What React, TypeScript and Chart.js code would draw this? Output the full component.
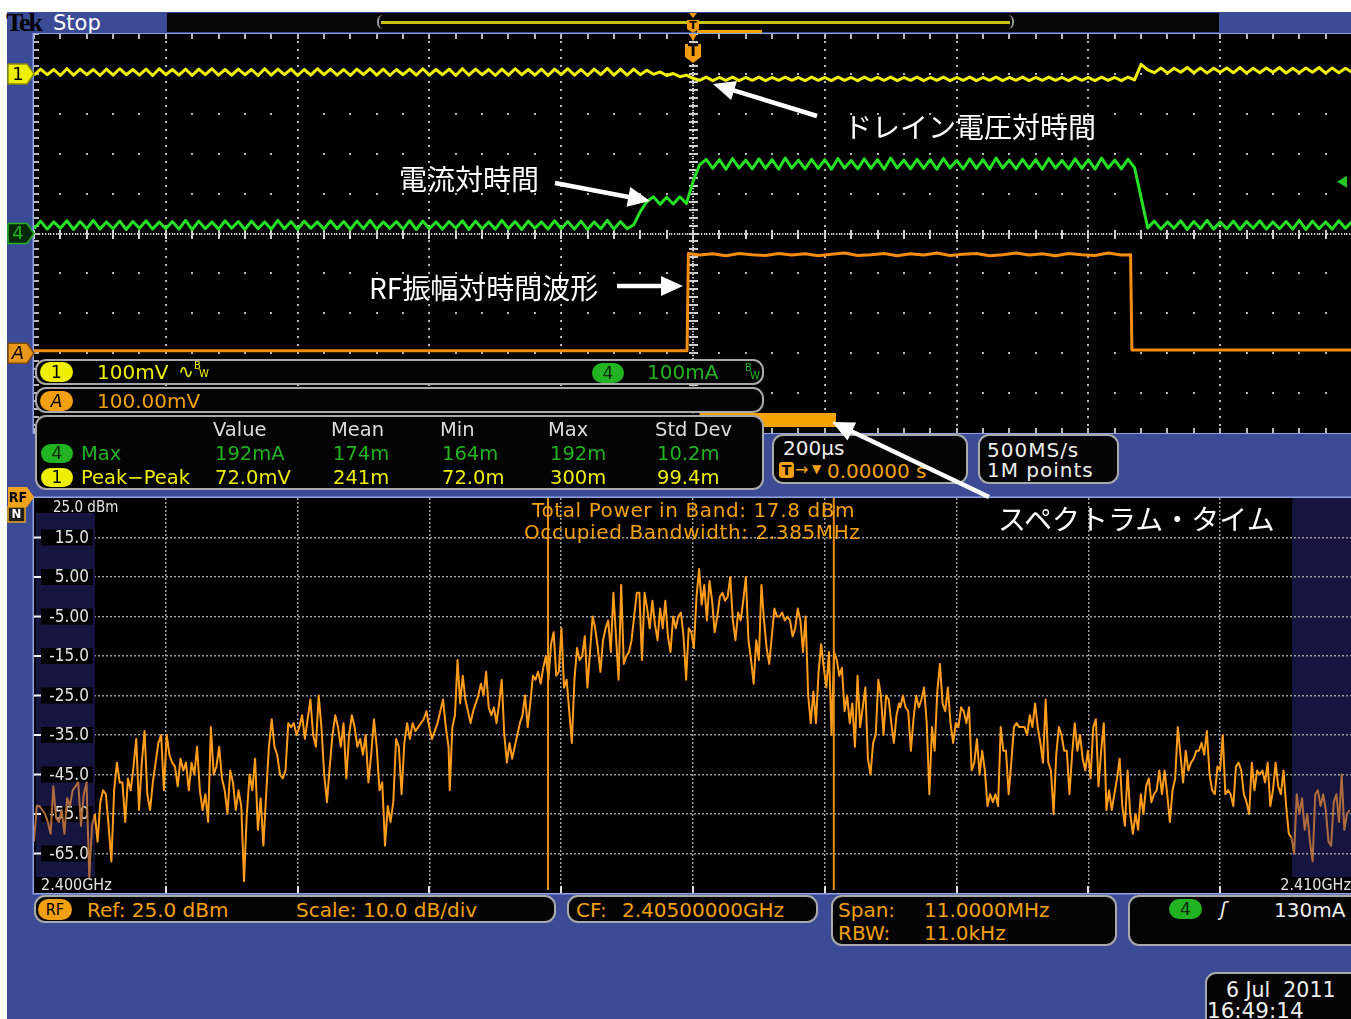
import React, { useEffect, useRef } from "react";
import { Chart, registerables } from "chart.js";

Chart.register(...registerables);

/* ---------------- time-domain record (200 µs/div, trigger at centre) ---------------- */
const T_START_US = -1000;
const T_STEP_US = 10;
const timeSpanUs = [-1000, 1000];

// Ch1 drain voltage, mV — 100 mV/div, position +4 div
const ch1Setup = { perDiv: 100, offsetDiv: 4 };
const ch1DrainMv = [
  -3, 12, -2, 11, -4, 13, -3, 12, -2, 11,
  -4, 12, -3, 13, -2, 11, -3, 12, -4, 13,
  -2, 11, -3, 12, -4, 12, -2, 13, -3, 11,
  -3, 12, -2, 11, -4, 13, -3, 12, -2, 12,
  -4, 11, -3, 13, -2, 12, -3, 11, -4, 12,
  -2, 13, -3, 12, -4, 11, -2, 12, -3, 13,
  -3, 11, -2, 12, -4, 13, -3, 12, -2, 11,
  -4, 12, -3, 13, -2, 11, -3, 12, -4, 12,
  -2, 13, -3, 11, -4, 12, -2, 14, -3, 12,
  -3, 12, -2, 9, -1, 5, -4, 1, -7, -3,
  -11, -16, -8, -17, -9, -16, -8, -17, -9, -16,
  -8, -17, -9, -16, -8, -16, -9, -17, -8, -16,
  -9, -17, -8, -16, -9, -17, -8, -16, -9, -16,
  -8, -17, -9, -16, -8, -17, -9, -16, -8, -17,
  -9, -16, -8, -17, -9, -16, -8, -17, -9, -16,
  -8, -17, -9, -16, -8, -16, -9, -17, -8, -16,
  -9, -17, -8, -16, -9, -17, -8, -15, 24, 10,
  3, 15, 2, 14, 4, 16, 3, 15, 2, 14,
  4, 15, 3, 16, 2, 14, 3, 15, 4, 16,
  2, 14, 3, 15, 4, 16, 2, 15, 3, 14,
  4,
];

// Ch4 drain current, mA — 100 mA/div, position 0 div
const ch4Setup = { perDiv: 100, offsetDiv: 0 };
const ch4CurrentMa = [
  12, 31, 11, 29, 13, 32, 10, 30, 12, 33,
  11, 29, 12, 31, 10, 30, 13, 32, 11, 29,
  12, 30, 11, 33, 10, 31, 12, 29, 11, 32,
  13, 30, 10, 31, 12, 29, 11, 33, 12, 30,
  10, 31, 13, 29, 11, 32, 12, 30, 10, 31,
  12, 33, 11, 29, 13, 30, 11, 32, 10, 31,
  12, 29, 11, 30, 13, 32, 10, 31, 12, 29,
  11, 33, 12, 30, 10, 31, 13, 29, 11, 32,
  12, 30, 11, 31, 10, 29, 12, 33, 11, 30,
  12, 22, 55, 80, 92, 73, 91, 74, 92, 75,
  130, 172, 186, 163, 185, 161, 188, 164, 184, 162,
  187, 163, 185, 161, 189, 164, 184, 162, 186, 163,
  185, 161, 188, 164, 183, 162, 187, 163, 185, 161,
  189, 164, 184, 162, 186, 163, 185, 161, 188, 164,
  183, 162, 187, 163, 185, 161, 189, 164, 184, 162,
  186, 163, 185, 161, 188, 164, 183, 162, 187, 163,
  185, 161, 189, 164, 184, 162, 186, 165, 90, 14,
  31, 11, 29, 13, 32, 10, 30, 12, 33, 11,
  29, 12, 31, 10, 30, 13, 32, 11, 29, 12,
  30, 11, 33, 10, 31, 12, 29, 11, 32, 13,
  30,
];

// RF amplitude vs time, mV — 100 mV/div, position -3 div
const rfSetup = { perDiv: 100, offsetDiv: -3 };
const rfTimesUs = [
  -1000, -9, -7,
  10, 30, 50, 70, 90, 110, 130, 150, 170, 190, 210, 230, 250, 270, 290, 310, 330,
  350, 370, 390, 410, 430, 450, 470, 490, 510, 530, 550, 570, 590, 610, 630, 650,
  664, 666, 1000,
];
const rfAmplitudeMv = [
  6, 6, 250,
  246, 249, 244, 250, 247, 245, 250, 246, 249, 244, 248, 251, 245, 247, 250, 244, 249,
  246, 251, 245, 248, 250, 244, 247, 251, 246, 249, 244, 250, 247, 245, 251, 246,
  247, 8, 8,
];

const spectrumWindowUs = [10, 217];
const triggerLevelMa = 130;

/* ---------------- spectrum (CF 2.405 GHz, span 11 MHz) ---------------- */
const centerFreqGhz = 2.405;
const spanMhz = 11;
const rbwKhz = 11;
const refLevelDbm = 25;
const dbPerDiv = 10;
const dbTickValues = [15, 5, -5, -15, -25, -35, -45, -55, -65];
const freqDivsMhz = [2400.6, 2401.7, 2402.8, 2403.9, 2405.0, 2406.1, 2407.2, 2408.3, 2409.4];
const displayLimitsMhz = [2400, 2410];
const obwEdgesMhz = [2403.79, 2406.175];
const totalPowerDbm = 17.8;
const occupiedBwMhz = 2.385;

const spectrumLowMhz = [2399.5, 2402.96];
const spectrumLowDbm = [
  -62, -53, -53, -54, -55, -57, -60, -48, -56, -57, -54, -60, -51, -53, -49, -48, -47, -58, -50, -47,
  -71, -58, -55, -62, -52, -49, -50, -58, -67, -49,
  -42, -47, -47, -57, -46, -49, -43, -36, -54, -42, -34, -50, -54, -47, -42, -37, -35, -49, -35, -40,
  -42, -43, -48, -41, -44, -42, -49, -42, -45, -38, -49, -54, -50, -57, -33, -45, -43, -38, -46, -49,
  -55, -44, -47, -54, -49, -53, -72, -55, -45, -49, -41, -59, -51, -63, -50, -38, -31, -38, -40, -45,
  -46, -44, -32, -33, -32, -35, -33, -30, -36, -31, -26, -35, -38, -25, -33, -45, -52, -43, -35, -30,
  -33, -38, -32, -46, -35, -30, -33, -38, -36, -40, -35, -47, -40, -31, -38, -49, -47, -63, -53, -57,
  -52, -36, -38, -50, -37, -32, -36, -32, -34, -33, -32, -31, -29, -33, -36, -34, -32, -29, -26, -33,
  -38,
];

const spectrumMidMhz = [2402.97, 2406.72];
const spectrumMidDbm = [
  -49, -33, -30, -16, -27, -20, -26, -29, -32, -29, -27, -25, -22, -25, -19, -28, -30, -28, -32, -27,
  -21, -35, -42, -37, -41, -38, -35, -32, -30, -25, -33, -27, -20, -21, -19, -22, -18, -15, -21, -12,
  -9, -20, -19, -8, -23, -21, -29, -37, -21, -13, -16, -15, -10, -23, -14, -5, -8, -13, -19, -11,
  -8, -6, -14, 1, -10, -21, 3, -17, -15, -14, -11, -5, 1, 1, -16, 1, -3, -8, -1, -7,
  -11, -3, -8, -1, -10, -14, -5, -8, -5, -4, -10, -21, -8, -9, -13, 0, 7, -2, 3, -6,
  4, -1, -9, -5, 0, 1, -1, 0, 5, -6, -11, -4, -6, -1, 5, -11, -16, -22, -11, -16,
  3, -6, -13, -17, -10, -3, -5, -5, -4, -6, -5, -6, -10, -8, -3, -6, -14, -5, -25, -32,
  -24, -32, -19, -12, -18, -23, -14, -35, -14, -16, -20, -18, -29, -25, -32, -27, -38, -20, -33, -28,
  -23, -41, -45, -37, -35, -21, -25, -35, -25, -26, -32, -37, -30, -27,
];

const spectrumHighMhz = [2406.73, 2410.48];
const spectrumHighDbm = [
  -28, -25, -28, -29, -39, -31, -25, -28, -26, -23, -32, -50, -33, -39, -24, -17, -27, -29, -23, -32,
  -37, -32, -33, -28, -29, -32, -28, -44, -42, -36, -45, -39, -44, -53, -50, -52, -50, -53, -33, -39,
  -39, -50, -42, -33, -32, -33, -33, -33, -35, -30, -33, -27, -33, -37, -42, -26, -42, -44, -55, -40,
  -33, -35, -39, -39, -50, -40, -32, -39, -35, -41, -44, -39, -46, -33, -31, -48, -39, -32, -54, -49,
  -54, -50, -46, -41, -53, -58, -44, -55, -60, -55, -59, -50, -55, -48, -46, -52, -50, -49, -44, -50,
  -44, -50, -57, -49, -46, -33, -40, -47, -39, -44, -42, -41, -39, -39, -37, -40, -34, -45, -49, -50,
  -43, -44, -35, -50, -49, -50, -53, -43, -42, -44, -50, -52, -55, -42, -49, -44, -45, -44, -47, -42,
  -53, -49, -42, -48, -50, -44, -53, -60, -61, -65, -50, -55, -51, -59, -55, -62, -67, -50, -49, -53,
  -50, -54, -62, -63, -52, -50, -57, -45, -59, -55, -54,
];

/* ---------------- readouts ---------------- */
const measColumns = ["Value", "Mean", "Min", "Max", "Std Dev"];
const measCh4Max = ["192mA", "174m", "164m", "192m", "10.2m"];
const measCh1PkPk = ["72.0mV", "241m", "72.0m", "300m", "99.4m"];

/* ---------------- palette ---------------- */
const BLUE = "#3c4b96";
const FRAME = "#8fa4e4";
const YELLOW = "#eeee00";
const GREEN = "#22b322";
const GREEN_TRACE = "#26e026";
const ORANGE = "#f2a012";
const WHITE = "#eeeeee";
const DJV = '"DejaVu Sans", sans-serif';
const DJVC = '"DejaVu Sans Condensed", "DejaVu Sans", sans-serif';
const CJK = '"Noto Sans CJK JP", sans-serif';

const axisRange = (s: { perDiv: number; offsetDiv: number }) => ({
  min: (-5 - s.offsetDiv) * s.perDiv,
  max: (5 - s.offsetDiv) * s.perDiv,
});

const sampled = (vals: number[]) => vals.map((v, i) => ({ x: T_START_US + i * T_STEP_US, y: v }));

function bandPoints(range: number[], vals: number[]) {
  return vals.map((v, i) => ({ x: range[0] + ((range[1] - range[0]) * i) / (vals.length - 1), y: v }));
}

function sideMarker(ctx: CanvasRenderingContext2D, tipX: number, y: number, fill: string, stroke: string, label: string, fg: string, italic = false) {
  const h = 10, w = 26;
  ctx.beginPath();
  ctx.moveTo(tipX - w, y - h);
  ctx.lineTo(tipX - 7, y - h);
  ctx.lineTo(tipX, y);
  ctx.lineTo(tipX - 7, y + h);
  ctx.lineTo(tipX - w, y + h);
  ctx.closePath();
  ctx.lineJoin = "round";
  ctx.fillStyle = fill;
  ctx.fill();
  ctx.lineWidth = 1.5;
  ctx.strokeStyle = stroke;
  ctx.stroke();
  ctx.fillStyle = fg;
  ctx.font = `${italic ? "italic " : ""}18px ${DJV}`;
  ctx.textAlign = "center";
  ctx.textBaseline = "middle";
  ctx.fillText(label, tipX - w / 2 - 3, y + 1);
}

const scopePlugin = {
  id: "scopeGraticule",
  beforeDatasetsDraw(chart: any) {
    const { ctx, chartArea: a } = chart;
    const xs = chart.scales.x, gs = chart.scales.yDiv;
    ctx.save();
    ctx.fillStyle = "#000";
    ctx.fillRect(a.left, a.top, a.right - a.left, a.bottom - a.top);
    const minorT: number[] = [];
    for (let t = timeSpanUs[0]; t <= timeSpanUs[1]; t += 40) minorT.push(t);
    const minorD: number[] = [];
    for (let k = -25; k <= 25; k++) minorD.push(k / 5);
    ctx.fillStyle = "#b8b8b8";
    for (let t = -800; t <= 800; t += 200) {
      const x = Math.round(xs.getPixelForValue(t));
      if (t === 0) {
        ctx.fillStyle = "#cfcfcf";
        for (let y = a.top; y <= a.bottom; y += 2.7) ctx.fillRect(x - 1, Math.round(y), 2, 1.3);
        minorD.forEach((d) => { const y = Math.round(gs.getPixelForValue(d)); ctx.fillRect(x - 4, y - 1, 9, 2); });
        ctx.fillStyle = "#b8b8b8";
      } else {
        minorD.forEach((d) => { const y = Math.round(gs.getPixelForValue(d)); ctx.fillRect(x - 1, y - 1, 2, 2); });
      }
    }
    for (let d = -4; d <= 4; d++) {
      const y = Math.round(gs.getPixelForValue(d));
      if (d === 0) {
        ctx.fillStyle = "#cfcfcf";
        for (let x = a.left; x <= a.right; x += 2.7) ctx.fillRect(Math.round(x), y - 1, 1.3, 2);
        minorT.forEach((t) => { const x = Math.round(xs.getPixelForValue(t)); ctx.fillRect(x - 1, y - 4, 2, 9); });
        ctx.fillStyle = "#b8b8b8";
      } else {
        minorT.forEach((t) => { const x = Math.round(xs.getPixelForValue(t)); ctx.fillRect(x - 1, y - 1, 2, 2); });
      }
    }
    minorD.forEach((d) => { const y = Math.round(gs.getPixelForValue(d)); ctx.fillRect(a.left, y - 1, 5, 2); });
    minorT.forEach((t) => {
      const x = Math.round(xs.getPixelForValue(t));
      ctx.fillRect(x - 1, a.top, 2, 5);
      ctx.fillRect(x - 1, a.bottom - 5, 2, 5);
    });
    ctx.restore();
  },
  afterDatasetsDraw(chart: any) {
    const { ctx, chartArea: a } = chart;
    const xs = chart.scales.x;
    ctx.save();
    // spectrum-time window
    const w0 = xs.getPixelForValue(spectrumWindowUs[0]);
    const w1 = xs.getPixelForValue(spectrumWindowUs[1]);
    ctx.fillStyle = "#f5a300";
    ctx.fillRect(w0, a.bottom - 20, w1 - w0, 14);
    // trigger position marker
    const tx = xs.getPixelForValue(0);
    ctx.fillStyle = "#f29a10";
    ctx.beginPath();
    ctx.moveTo(tx - 4, a.top);
    ctx.lineTo(tx + 4, a.top);
    ctx.lineTo(tx, a.top + 7);
    ctx.closePath();
    ctx.fill();
    ctx.beginPath();
    ctx.moveTo(tx - 8, a.top + 10);
    ctx.lineTo(tx + 8, a.top + 10);
    ctx.lineTo(tx + 8, a.top + 23);
    ctx.lineTo(tx, a.top + 29);
    ctx.lineTo(tx - 8, a.top + 23);
    ctx.closePath();
    ctx.fill();
    ctx.fillStyle = "#000";
    ctx.font = `bold 15px ${DJV}`;
    ctx.textAlign = "center";
    ctx.textBaseline = "middle";
    ctx.fillText("T", tx, a.top + 18);
    // trigger level indicator on Ch4
    const ly = chart.scales.y4.getPixelForValue(triggerLevelMa);
    ctx.fillStyle = "#22c822";
    ctx.beginPath();
    ctx.moveTo(a.right - 15, ly);
    ctx.lineTo(a.right - 5, ly - 6);
    ctx.lineTo(a.right - 5, ly + 6);
    ctx.closePath();
    ctx.fill();
    // frame
    ctx.strokeStyle = FRAME;
    ctx.lineWidth = 1.5;
    ctx.strokeRect(a.left - 0.75, a.top - 0.75, a.right - a.left + 1.5, a.bottom - a.top + 1.5);
    // channel ground markers
    sideMarker(ctx, a.left, chart.scales.y1.getPixelForValue(0), YELLOW, "#8c8c00", "1", "#000");
    sideMarker(ctx, a.left, chart.scales.y4.getPixelForValue(0), "#062a06", GREEN, "4", GREEN);
    sideMarker(ctx, a.left, chart.scales.yA.getPixelForValue(0), "#e8961c", "#7a4a08", "A", "#000", true);
    ctx.restore();
  },
};

const spectrumPlugin = {
  id: "spectrumDecor",
  beforeDraw(chart: any) {
    const { ctx, chartArea: a } = chart;
    const xs = chart.scales.x;
    ctx.save();
    ctx.fillStyle = "#000";
    ctx.fillRect(a.left, a.top, a.right - a.left, a.bottom - a.top);
    const rx = xs.getPixelForValue(displayLimitsMhz[1]);
    ctx.fillStyle = "#15153f";
    ctx.fillRect(rx, a.top, a.right - rx, a.bottom - 16 - a.top);
    ctx.restore();
  },
  beforeDatasetsDraw(chart: any) {
    const { ctx, chartArea: a } = chart;
    const xs = chart.scales.x, ys = chart.scales.y;
    ctx.save();
    const lx = xs.getPixelForValue(displayLimitsMhz[0]);
    ctx.fillStyle = "#15153f";
    ctx.fillRect(a.left + 2, a.top + 15, lx + 1 - a.left - 2, a.bottom - 16 - a.top - 15);
    ctx.font = `17px ${DJVC}`;
    ctx.textAlign = "right";
    ctx.textBaseline = "middle";
    dbTickValues.forEach((v) => {
      const y = ys.getPixelForValue(v);
      ctx.fillStyle = "#000";
      ctx.fillRect(a.left + 7, y - 8, lx - a.left - 8, 16);
      ctx.fillStyle = "#f4f4f4";
      ctx.fillRect(a.left, y - 1, 7, 2);
      ctx.fillStyle = "#e4e4e4";
      ctx.fillText(v.toPrecision(3), lx - 5, y + 1);
    });
    ctx.textBaseline = "alphabetic";
    ctx.textAlign = "left";
    ctx.font = `15px ${DJVC}`;
    ctx.fillStyle = "#e4e4e4";
    ctx.fillText(`${refLevelDbm.toFixed(1)} dBm`, a.left + 19, a.top + 13.5);
    ctx.font = `16px ${DJVC}`;
    ctx.fillText(`${(displayLimitsMhz[0] / 1000).toFixed(3)}GHz`, a.left + 7, a.bottom - 3);
    ctx.textAlign = "right";
    ctx.fillText(`${(displayLimitsMhz[1] / 1000).toFixed(3)}GHz`, a.right - 1, a.bottom - 3);
    ctx.fillStyle = "#e0e0e0";
    freqDivsMhz.forEach((f) => {
      const x = Math.round(xs.getPixelForValue(f));
      ctx.fillRect(x - 1, a.bottom - 7, 2, 7);
    });
    ctx.restore();
  },
  afterDatasetsDraw(chart: any) {
    const { ctx, chartArea: a } = chart;
    const xs = chart.scales.x;
    ctx.save();
    ctx.strokeStyle = "#e8921a";
    ctx.lineWidth = 2;
    obwEdgesMhz.forEach((f) => {
      const x = xs.getPixelForValue(f);
      ctx.beginPath();
      ctx.moveTo(x, a.top);
      ctx.lineTo(x, a.bottom - 3);
      ctx.stroke();
    });
    ctx.strokeStyle = FRAME;
    ctx.lineWidth = 1.5;
    ctx.strokeRect(a.left - 0.75, a.top - 0.75, a.right - a.left + 1.5, a.bottom - a.top + 1.5);
    // RF reference-level marker
    const yRef = a.top - 1;
    ctx.beginPath();
    ctx.moveTo(a.left - 26, yRef - 10);
    ctx.lineTo(a.left - 7, yRef - 10);
    ctx.lineTo(a.left, yRef);
    ctx.lineTo(a.left - 7, yRef + 10);
    ctx.lineTo(a.left - 26, yRef + 10);
    ctx.closePath();
    ctx.fillStyle = "#efa31c";
    ctx.fill();
    ctx.fillStyle = "#000";
    ctx.font = `bold 14px ${DJVC}`;
    ctx.textAlign = "center";
    ctx.textBaseline = "middle";
    ctx.fillText("RF", a.left - 16, yRef + 1);
    ctx.fillStyle = "#1e1e1e";
    ctx.fillRect(a.left - 26, yRef + 10, 17, 15);
    ctx.strokeStyle = "#efa31c";
    ctx.lineWidth = 1.5;
    ctx.strokeRect(a.left - 26, yRef + 10, 17, 15);
    ctx.fillStyle = "#fff";
    ctx.font = `bold 13px ${DJVC}`;
    ctx.fillText("N", a.left - 17.5, yRef + 18);
    ctx.restore();
  },
};

type TxtProps = {
  x: number; y: number; size?: number; color?: string; family?: string;
  weight?: number; ls?: number; italic?: boolean; children: React.ReactNode;
};
function Txt({ x, y, size = 20, color = WHITE, family = DJV, weight = 400, ls = 0, italic = false, children }: TxtProps) {
  return (
    <div style={{
      position: "absolute", left: x, top: y, fontSize: size, lineHeight: 1, color,
      fontFamily: family, fontWeight: weight, letterSpacing: ls, whiteSpace: "pre",
      fontStyle: italic ? "italic" : "normal",
    }}>{children}</div>
  );
}

function Box({ x, y, w, h }: { x: number; y: number; w: number; h: number }) {
  return (
    <div style={{
      position: "absolute", left: x, top: y, width: w, height: h, boxSizing: "border-box",
      background: "#040404", border: "2px solid #a9a9a9", borderRadius: 11,
    }} />
  );
}

function Badge({ x, y, w, h, bg, fg, text, size = 17, italic = false, family = DJV }: any) {
  return (
    <div style={{
      position: "absolute", left: x, top: y, width: w, height: h, borderRadius: h / 2,
      background: bg, color: fg, fontFamily: family, fontSize: size,
      fontStyle: italic ? "italic" : "normal", lineHeight: `${h}px`, textAlign: "center",
    }}>{text}</div>
  );
}

function Arrow({ x1, y1, x2, y2 }: { x1: number; y1: number; x2: number; y2: number }) {
  const dx = x2 - x1, dy = y2 - y1, L = Math.hypot(dx, dy);
  const ux = dx / L, uy = dy / L, hl = 22, hw = 10;
  const bx = x2 - ux * hl, by = y2 - uy * hl;
  const pts = `${x2},${y2} ${bx - uy * hw},${by + ux * hw} ${bx + uy * hw},${by - ux * hw}`;
  return (
    <g>
      <line x1={x1} y1={y1} x2={bx + ux * 3} y2={by + uy * 3} stroke="#ffffff" strokeWidth={4.5} />
      <polygon points={pts} fill="#ffffff" />
    </g>
  );
}

export default function App() {
  const scopeRef = useRef<HTMLCanvasElement>(null);
  const specRef = useRef<HTMLCanvasElement>(null);

  useEffect(() => {
    const common = {
      animation: false as const,
      responsive: false,
      devicePixelRatio: 1,
      events: [] as any[],
      plugins: { legend: { display: false }, tooltip: { enabled: false } },
      elements: { point: { radius: 0 }, line: { tension: 0, borderJoinStyle: "round" } },
    };

    const scope = new Chart(scopeRef.current!, {
      type: "line",
      data: {
        datasets: [
          { data: rfTimesUs.map((t, i) => ({ x: t, y: rfAmplitudeMv[i] })), yAxisID: "yA", borderColor: "#f38c10", borderWidth: 3 },
          { data: sampled(ch4CurrentMa), yAxisID: "y4", borderColor: GREEN_TRACE, borderWidth: 3 },
          { data: sampled(ch1DrainMv), yAxisID: "y1", borderColor: "#f0f000", borderWidth: 3 },
        ],
      },
      options: {
        ...common,
        layout: { padding: { left: 27, top: 1, right: 0, bottom: 1 }, autoPadding: false },
        scales: {
          x: { type: "linear", display: false, min: timeSpanUs[0], max: timeSpanUs[1] },
          yDiv: { type: "linear", axis: "y", display: false, min: -5, max: 5 },
          y1: { type: "linear", display: false, ...axisRange(ch1Setup) },
          y4: { type: "linear", display: false, ...axisRange(ch4Setup) },
          yA: { type: "linear", display: false, ...axisRange(rfSetup) },
        },
      } as any,
      plugins: [scopePlugin],
    });

    const spectrumPoints = [
      ...bandPoints(spectrumLowMhz, spectrumLowDbm),
      ...bandPoints(spectrumMidMhz, spectrumMidDbm),
      ...bandPoints(spectrumHighMhz, spectrumHighDbm),
    ];
    const halfSpan = spanMhz / 2;
    const cfMhz = centerFreqGhz * 1000;

    const spec = new Chart(specRef.current!, {
      type: "line",
      data: {
        datasets: [{
          data: spectrumPoints,
          borderColor: "#ff9c1c",
          borderWidth: 2,
          segment: {
            borderColor: (c: any) => {
              const m = (c.p0.parsed.x + c.p1.parsed.x) / 2;
              return m < displayLimitsMhz[0] || m > displayLimitsMhz[1] ? "#b06c3c" : undefined;
            },
          },
        }],
      },
      options: {
        ...common,
        layout: { padding: { left: 27, top: 13, right: 0, bottom: 2 }, autoPadding: false },
        scales: {
          x: {
            type: "linear", min: cfMhz - halfSpan, max: cfMhz + halfSpan,
            ticks: { display: false },
            grid: { color: "#9e9e9e", lineWidth: 1.5, drawTicks: false },
            border: { display: false, dash: [2, 2] },
            afterBuildTicks: (s: any) => { s.ticks = freqDivsMhz.map((v) => ({ value: v })); },
            afterFit: (s: any) => { s.height = 0; },
          },
          y: {
            type: "linear", min: refLevelDbm - 10 * dbPerDiv, max: refLevelDbm,
            ticks: { display: false },
            grid: { color: "#9e9e9e", lineWidth: 1.5, drawTicks: false },
            border: { display: false, dash: [2, 2] },
            afterBuildTicks: (s: any) => { s.ticks = dbTickValues.map((v) => ({ value: v })); },
            afterFit: (s: any) => { s.width = 0; },
          },
        },
      } as any,
      plugins: [spectrumPlugin],
    });

    return () => {
      scope.destroy();
      spec.destroy();
    };
  }, []);

  const colX = [213, 331, 440, 548, 655];

  return (
    <div style={{ position: "absolute", left: 0, top: 0, width: 1351, height: 1019, overflow: "hidden", background: "#fff" }}>
      <div style={{ position: "absolute", left: 7, top: 12, width: 1344, height: 1007, background: BLUE }} />

      {/* header */}
      <Txt x={6} y={10} size={26} color="#000" family='"Liberation Serif", serif' weight={700} ls={-2}>Tek</Txt>
      <Txt x={53} y={12.5} size={21} color="#ffffff">Stop</Txt>
      <div style={{ position: "absolute", left: 167, top: 13, width: 1052, height: 19, background: "#050505" }} />
      <div style={{ position: "absolute", left: 381, top: 21, width: 629, height: 2.5, background: "#c9c400" }} />
      <div style={{ position: "absolute", left: 377, top: 15, width: 6, height: 14, borderLeft: "2px solid #9a9a9a", borderRadius: "6px 0 0 6px" }} />
      <div style={{ position: "absolute", left: 1006, top: 15, width: 6, height: 14, borderRight: "2px solid #9a9a9a", borderRadius: "0 6px 6px 0" }} />
      <div style={{ position: "absolute", left: 697, top: 29.5, width: 65, height: 3, background: "#f5a300" }} />
      <svg style={{ position: "absolute", left: 686, top: 12 }} width={14} height={22}>
        <polygon points="3,1 11,1 7,6" fill="#f29a10" />
        <path d="M1,8 H13 V17 L7,21 L1,17 Z" fill="#f29a10" />
        <text x={7} y={17} fontSize={11} fontWeight={700} textAnchor="middle" fontFamily="DejaVu Sans" fill="#000">T</text>
      </svg>

      {/* time-domain graticule and traces */}
      <canvas ref={scopeRef} width={1345} height={401} style={{ position: "absolute", left: 7, top: 33 }} />

      {/* spectrum graticule and trace */}
      <canvas ref={specRef} width={1345} height={410} style={{ position: "absolute", left: 7, top: 485 }} />

      {/* vertical / math readouts */}
      <Box x={35} y={359} w={729} h={26} />
      <Box x={35} y={387} w={729} h={26} />
      <Box x={35} y={415} w={729} h={75} />
      <Badge x={40} y={362} w={33} h={20} bg={YELLOW} fg="#000" text="1" />
      <Txt x={97} y={362} color={YELLOW}>100mV</Txt>
      <Txt x={178} y={362} size={19} color={YELLOW}>∿</Txt>
      <Txt x={194} y={361} size={10} color={YELLOW}>B</Txt>
      <Txt x={199} y={369} size={10} color={YELLOW}>W</Txt>
      <Badge x={592} y={363} w={32} h={20} bg={GREEN} fg="#062806" text="4" />
      <Txt x={647} y={362} color={GREEN}>100mA</Txt>
      <Txt x={745} y={363} size={10} color={GREEN}>B</Txt>
      <Txt x={750} y={371} size={10} color={GREEN}>W</Txt>
      <Badge x={40} y={391} w={33} h={20} bg={ORANGE} fg="#000" text="A" italic />
      <Txt x={97} y={391} color={ORANGE}>100.00mV</Txt>

      {/* measurements */}
      {measColumns.map((c, i) => (
        <Txt key={c} x={colX[i]} y={420} size={19.5} color="#dcdcdc">{c}</Txt>
      ))}
      <Badge x={41} y={444} w={32} h={19} bg={GREEN} fg="#062806" text="4" />
      <Txt x={81} y={444} size={19.5} color={GREEN}>Max</Txt>
      {measCh4Max.map((v, i) => (
        <Txt key={"m4" + i} x={colX[i] + 2} y={444} size={19.5} color={GREEN}>{v}</Txt>
      ))}
      <Badge x={41} y={468} w={32} h={19} bg={YELLOW} fg="#000" text="1" />
      <Txt x={81} y={467.5} size={19.5} color={YELLOW}>Peak−Peak</Txt>
      {measCh1PkPk.map((v, i) => (
        <Txt key={"m1" + i} x={colX[i] + 2} y={467.5} size={19.5} color={YELLOW}>{v}</Txt>
      ))}

      {/* horizontal / acquisition */}
      <Box x={772} y={434} w={196} h={50} />
      <Txt x={783} y={438}>200µs</Txt>
      <div style={{ position: "absolute", left: 779, top: 462, width: 15, height: 16, borderRadius: 3, background: ORANGE, color: "#000", fontFamily: DJV, fontWeight: 700, fontSize: 14, lineHeight: "16px", textAlign: "center" }}>T</div>
      <Txt x={795} y={462} size={16} color={ORANGE}>→</Txt>
      <Txt x={812} y={463} size={12} color={ORANGE}>▼</Txt>
      <Txt x={827} y={461} color={ORANGE}>0.00000 s</Txt>
      <Box x={978} y={434} w={141} h={50} />
      <Txt x={987} y={439.5} ls={1}>500MS/s</Txt>
      <Txt x={987} y={459.5} ls={1}>1M points</Txt>

      {/* spectrum measurements */}
      <Txt x={532} y={500} color={ORANGE} ls={0.6}>{`Total Power in Band: ${totalPowerDbm.toFixed(1)} dBm`}</Txt>
      <Txt x={524} y={522} color={ORANGE} ls={0.6}>{`Occupied Bandwidth: ${occupiedBwMhz.toFixed(3)}MHz`}</Txt>

      {/* RF readouts */}
      <Box x={34} y={895} w={522} h={28} />
      <Badge x={38} y={899} w={34} h={21} bg={ORANGE} fg="#000" text="RF" size={16} family={DJVC} />
      <Txt x={87} y={899.5} color={ORANGE}>{`Ref: ${refLevelDbm.toFixed(1)} dBm`}</Txt>
      <Txt x={296} y={899.5} color={ORANGE}>{`Scale: ${dbPerDiv.toFixed(1)} dB/div`}</Txt>
      <Box x={567} y={895} w={251} h={28} />
      <Txt x={576} y={899.5} color={ORANGE}>CF:</Txt>
      <Txt x={622} y={899.5} color={ORANGE}>{`${centerFreqGhz.toFixed(8)}GHz`}</Txt>
      <Box x={831} y={895} w={286} h={51} />
      <Txt x={838} y={899.5} color={ORANGE}>Span:</Txt>
      <Txt x={924} y={899.5} color={ORANGE}>{`${spanMhz.toFixed(4)}MHz`}</Txt>
      <Txt x={838} y={923} color={ORANGE}>RBW:</Txt>
      <Txt x={924} y={923} color={ORANGE}>{`${rbwKhz.toFixed(1)}kHz`}</Txt>

      {/* trigger readout */}
      <Box x={1128} y={895} w={240} h={51} />
      <Badge x={1169} y={899} w={33} h={20} bg={GREEN} fg="#062806" text="4" />
      <Txt x={1220} y={899} italic>ʃ</Txt>
      <Txt x={1274} y={899.5}>{`${triggerLevelMa}mA`}</Txt>

      {/* date */}
      <Box x={1205} y={972} w={160} h={60} />
      <Txt x={1226} y={979.5} size={20.5}>6 Jul  2011</Txt>
      <Txt x={1207} y={999.5} size={21.5}>16:49:14</Txt>

      {/* annotations */}
      <Txt x={844} y={111.5} size={28} color="#ffffff" family={CJK}>ドレイン電圧対時間</Txt>
      <Txt x={399} y={163.5} size={28} color="#ffffff" family={CJK}>電流対時間</Txt>
      <Txt x={369} y={272.5} size={28} color="#ffffff" family={CJK}>RF振幅対時間波形</Txt>
      <Txt x={998} y={503.5} size={28} color="#ffffff" family={CJK}>スペクトラム・タイム</Txt>
      <svg style={{ position: "absolute", left: 0, top: 0 }} width={1351} height={1019}>
        <Arrow x1={817} y1={116} x2={713} y2={84} />
        <Arrow x1={555} y1={183} x2={650} y2={201} />
        <Arrow x1={617} y1={286} x2={683} y2={286} />
        <Arrow x1={989} y1={497} x2={832} y2={422} />
      </svg>
    </div>
  );
}
